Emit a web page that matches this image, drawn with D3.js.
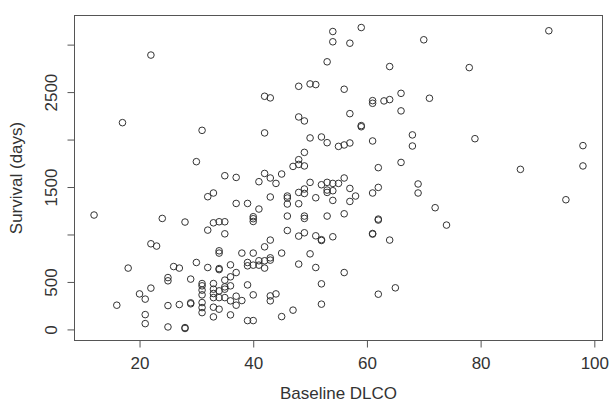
<!DOCTYPE html>
<html>
<head>
<meta charset="utf-8">
<script src="https://cdn.jsdelivr.net/npm/d3@7"></script>
<style>
  html, body { margin: 0; padding: 0; background: #fff; }
  svg { display: block; }
  text { font-family: "Liberation Sans", Arial, Helvetica, sans-serif; fill: #333; }
</style>
</head>
<body>
<svg id="chart" width="609" height="402"></svg>
<script>
// ---- data ----
const dlco = [
  22,17,31,30,35,37,54,59,54,57,70,53,64,48,50,51,56,42,43,61,61,63,64,66,66,57,48,49,59,59,
  42,68,68,50,52,53,61,55,56,57,49,48,47,48,49,66,62,92,78,71,79,98,87,98,72,74,95,
  32,33,37,39,12,24,28,33,34,35,32,35,22,23,34,34,38,18,26,27,30,32,34,34,36,37,
  25,25,29,31,31,33,35,36,39,22,20,21,31,31,33,33,34,35,35,36,34,33,35,36,37,38,37,16,
  25,27,29,29,31,31,31,33,34,21,21,25,28,28,33,36,39,
  42,45,41,43,44,50,49,49,48,52,53,53,53,54,54,55,56,57,58,57,54,51,46,46,43,46,48,41,
  61,62,69,69,46,49,49,53,56,40,40,40,46,48,49,51,52,52,54,62,62,61,61,64,43,42,40,45,50,
  43,43,42,41,41,40,39,39,42,48,51,56,40,43,43,44,52,52,62,65,40,45,47
];
const survival = [
  2890,2178,2097,1767,1619,1601,3138,3180,3030,3015,3051,2819,2769,2561,2586,2579,2530,2456,2439,2410,2382,2407,2421,2487,2302,2273,2238,2196,2147,2135,
  2070,2049,1932,2017,2027,1967,1985,1928,1943,1964,1865,1788,1717,1738,1722,1759,1704,3146,2758,2435,2009,1936,1686,1722,1282,1099,1366,
  1398,1437,1327,1327,1205,1169,1131,1123,1134,1134,1046,1007,902,878,828,804,804,646,662,646,705,652,641,630,680,599,
  546,512,530,483,459,483,519,554,469,435,374,319,414,364,424,378,406,448,424,459,335,335,335,301,350,304,255,255,
  251,262,280,270,283,230,177,234,213,156,61,26,19,10,132,153,93,
  1643,1637,1556,1595,1538,1549,1479,1432,1443,1524,1549,1468,1443,1538,1461,1538,1595,1485,1405,1348,1359,1387,1405,1384,1395,1321,1324,1268,
  1437,1496,1532,1437,1194,1194,1169,1194,1218,1187,1166,1137,1042,983,1018,986,937,945,976,1152,1162,1004,1010,941,941,870,804,804,796,
  754,730,723,723,677,677,705,670,646,688,652,599,364,353,301,374,480,266,371,438,93,135,203
];
const xTicks = [20, 40, 60, 80, 100];
const yTicks = [0, 500, 1000, 1500, 2000, 2500, 3000];
const yTickLabels = ["0", "500", "", "1500", "", "2500", ""];
const xTitle = "Baseline DLCO";
const yTitle = "Survival (days)";

(function () {
  const svg = d3.select("#chart");
  const pL = 74.5, pR = 602.5, pT = 15.5, pB = 340.5;
  const pad = ext => { const r = ext[1] - ext[0]; return [ext[0] - 0.04 * r, ext[1] + 0.04 * r]; };

  const x = d3.scaleLinear().domain(pad(d3.extent(dlco))).range([pL, pR]);
  const y = d3.scaleLinear().domain(pad(d3.extent(survival))).range([pB, pT]);

  const axisColor = "#555";
  const fontSize = 17;
  const ff = '"Liberation Sans", Arial, sans-serif';

  // plot box
  svg.append("rect")
    .attr("x", pL).attr("y", pT)
    .attr("width", pR - pL).attr("height", pB - pT)
    .attr("fill", "none").attr("stroke", axisColor).attr("stroke-width", 1);

  // x axis
  const gx = svg.append("g")
    .attr("transform", `translate(0,${pB})`)
    .call(d3.axisBottom(x).tickValues(xTicks).tickSize(7).tickPadding(9).tickSizeOuter(0));
  gx.select(".domain").remove();
  gx.selectAll(".tick line").attr("stroke", axisColor);
  gx.selectAll(".tick text").style("font-size", fontSize + "px").attr("fill", "#333")
    .style("font-family", ff);

  // y axis
  const gy = svg.append("g")
    .attr("transform", `translate(${pL},0)`)
    .call(d3.axisLeft(y).tickValues(yTicks).tickSize(7).tickSizeOuter(0)
      .tickFormat((d, i) => yTickLabels[i]));
  gy.select(".domain").remove();
  gy.selectAll(".tick line").attr("stroke", axisColor);
  gy.selectAll(".tick text")
    .attr("transform", "rotate(-90)")
    .attr("x", 0).attr("y", -18).attr("dy", 0)
    .attr("text-anchor", "middle")
    .style("font-size", fontSize + "px").attr("fill", "#333")
    .style("font-family", ff);

  // points
  svg.append("g").selectAll("circle")
    .data(dlco.map((d, i) => [d, survival[i]]))
    .join("circle")
    .attr("cx", d => x(d[0]))
    .attr("cy", d => y(d[1]))
    .attr("r", 3.3)
    .attr("fill", "none")
    .attr("stroke", "#333")
    .attr("stroke-width", 1);

  // titles
  svg.append("text")
    .attr("x", (pL + pR) / 2).attr("y", 399)
    .attr("text-anchor", "middle")
    .style("font-size", fontSize + "px")
    .text(xTitle);

  svg.append("text")
    .attr("transform", `translate(22,${(pT + pB) / 2}) rotate(-90)`)
    .attr("text-anchor", "middle")
    .style("font-size", fontSize + "px")
    .text(yTitle);
})();
</script>
</body>
</html>
